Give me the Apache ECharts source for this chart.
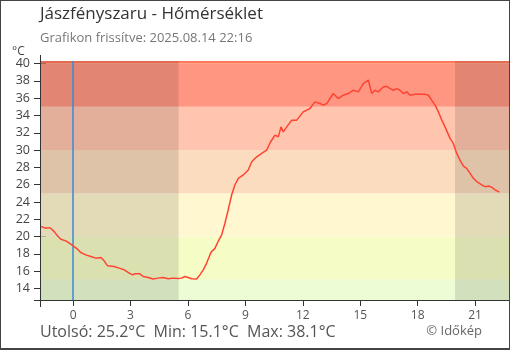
<!DOCTYPE html>
<html>
<head>
<meta charset="utf-8">
<script src="https://cdn.jsdelivr.net/npm/echarts@6/dist/echarts.min.js"></script>
<style>
  html, body { margin: 0; padding: 0; background: #fff; }
  #wrap { position: relative; width: 510px; height: 350px; }
  #chart { width: 510px; height: 350px; }
  #frame { position: absolute; left: 0; top: 0; width: 510px; height: 350px; box-sizing: border-box;
           border: 1px solid #444; border-bottom-width: 2px; pointer-events: none; }
</style>
</head>
<body>
<div id="wrap"><div id="chart"></div><div id="frame"></div></div>
<script>
// Hours relative to local midnight (negative = previous evening), temperatures in °C
const hours = [
  -1.73, -1.43, -1.31, -1.17, -0.99, -0.82, -0.64, -0.38, -0.12, 0.05,
  0.23, 0.40, 0.66, 0.93, 1.19, 1.45, 1.62, 1.80, 2.14, 2.40,
  2.67, 2.93, 3.11, 3.23, 3.49, 3.66, 3.92, 4.18, 4.44, 4.70,
  4.97, 5.23, 5.49, 5.67, 5.84, 6.01, 6.19, 6.45, 6.62, 6.80,
  6.97, 7.15, 7.23, 7.40, 7.57, 7.76, 7.93, 8.10, 8.28, 8.45,
  8.63, 8.89, 9.15, 9.33, 9.59, 9.85, 10.11, 10.32, 10.54, 10.72,
  10.86, 10.98, 11.16, 11.42, 11.68, 12.02, 12.20, 12.37, 12.63, 12.90,
  13.07, 13.25, 13.42, 13.59, 13.85, 14.11, 14.38, 14.64, 14.90, 15.16,
  15.42, 15.60, 15.77, 15.94, 16.20, 16.38, 16.56, 16.73, 16.91, 17.08,
  17.25, 17.43, 17.60, 17.86, 18.12, 18.38, 18.56, 18.73, 18.91, 19.08,
  19.26, 19.43, 19.69, 19.86, 20.04, 20.21, 20.39, 20.56, 20.74, 20.91,
  21.09, 21.35, 21.52, 21.70, 21.88, 22.05, 22.22, 22.27
];
const temps = [
  21.2, 20.96, 21.03, 20.96, 20.57, 20.1, 19.69, 19.5, 19.12, 18.84,
  18.54, 18.15, 17.88, 17.69, 17.5, 17.57, 17.19, 16.61, 16.53, 16.35,
  16.15, 15.77, 15.57, 15.69, 15.69, 15.38, 15.26, 15.08, 15.19, 15.26,
  15.11, 15.19, 15.15, 15.19, 15.38, 15.26, 15.11, 15.08, 15.57, 16.15,
  16.9, 17.9, 18.26, 18.6, 19.4, 20.19, 21.54, 23.07, 24.8, 25.96,
  26.73, 27.12, 27.69, 28.65, 29.22, 29.61, 30.0, 30.96, 31.73, 31.53,
  32.68, 32.11, 32.68, 33.46, 33.46, 34.42, 34.61, 34.81, 35.57, 35.38,
  35.19, 35.38, 35.96, 36.54, 35.96, 36.34, 36.54, 36.92, 36.73, 37.69,
  38.1, 36.54, 36.92, 36.73, 37.3, 37.38, 37.11, 36.92, 37.11, 36.92,
  36.54, 36.73, 36.34, 36.46, 36.46, 36.46, 36.34, 35.77, 35.19, 34.42,
  33.46, 32.68, 31.35, 30.77, 29.61, 28.84, 28.15, 27.88, 27.31, 26.73,
  26.34, 25.96, 25.77, 25.84, 25.69, 25.38, 25.19, 25.2
];

// Axis ranges and tick labels
const xMin = -1.73, xMax = 22.77;
const yMin = 12.66, yMax = 40.3;
const xTicks = [0, 3, 6, 9, 12, 15, 18, 21];
const yTicks = [14, 16, 18, 20, 22, 24, 26, 28, 30, 32, 34, 36, 38, 40];

// Temperature bands (lower bound, upper bound, colour)
const bandFrom   = [yMin, 15, 20, 25, 30, 35, 40];
const bandTo     = [15, 20, 25, 30, 35, 40, yMax];
const bandColors = ['#eefcd6', '#f5fcc6', '#fff7cf', '#fbdcbe', '#ffc5ae', '#ff9682', '#ff7a58'];

// Darkness: before sunrise and after sunset
const sunrise = 5.51, sunset = 19.95;
const midnight = 0;

const titleText = 'Jászfényszaru - Hőmérséklet';
const updatedText = 'Grafikon frissítve: 2025.08.14 22:16';

const FONT = '"Open Sans", "Noto Sans", sans-serif';
const last = temps[temps.length - 1];
const tMin = Math.min(...temps), tMax = Math.max(...temps);
const summary = 'Utolsó: ' + last.toFixed(1) + '°C  Min: ' + tMin.toFixed(1) + '°C  Max: ' + tMax.toFixed(1) + '°C';

const chart = echarts.init(document.getElementById('chart'), null, { renderer: 'canvas' });

function xAxisDef(inside) {
  return {
    type: 'value', min: xMin, max: xMax, position: 'bottom',
    axisLine: { show: !inside, onZero: false, lineStyle: { color: '#333', width: 1 } },
    axisTick: { show: true, inside: inside, length: 6, customValues: xTicks, lineStyle: { color: '#333' } },
    axisLabel: { show: !inside, customValues: xTicks, color: '#555', fontSize: 12, fontFamily: FONT, margin: 10 },
    splitLine: { show: false }
  };
}
function yAxisDef(inside) {
  return {
    type: 'value', min: yMin, max: yMax, position: 'left',
    axisLine: { show: !inside, onZero: false, lineStyle: { color: '#333', width: 1 } },
    axisTick: { show: true, inside: inside, length: 6, customValues: yTicks, lineStyle: { color: '#333' } },
    axisLabel: { show: !inside, customValues: yTicks, color: '#444', fontSize: 12.5, fontFamily: FONT, margin: 10 },
    splitLine: { show: false }
  };
}

// Colour bands first, then the night shading drawn over them
const areas = bandFrom.map((f, i) => [
  { yAxis: f, itemStyle: { color: bandColors[i] } },
  { yAxis: bandTo[i] }
]).concat([
  [{ xAxis: xMin, itemStyle: { color: 'rgba(0,0,0,0.11)' } }, { xAxis: sunrise }],
  [{ xAxis: sunset, itemStyle: { color: 'rgba(0,0,0,0.11)' } }, { xAxis: xMax }]
]);

chart.setOption({
  animation: false,
  textStyle: { fontFamily: FONT },
  grid: { left: 40, right: 1, top: 61, bottom: 50, containLabel: false },
  xAxis: [xAxisDef(false), xAxisDef(true)],
  yAxis: [yAxisDef(false), yAxisDef(true)],
  graphic: [
    { type: 'text', left: 40, top: 6, z: 10, style: { text: titleText, font: '17px ' + FONT, fill: '#333' } },
    { type: 'text', left: 40, top: 32, z: 10, style: { text: updatedText, font: '13px ' + FONT, fill: '#777' } },
    { type: 'text', left: 12, top: 46, z: 10, style: { text: '°C', font: '12px ' + FONT, fill: '#444' } },
    { type: 'text', left: 40, top: 324, z: 10, style: { text: summary, font: '16px ' + FONT, fill: '#555' } },
    { type: 'text', right: 28, top: 325, z: 10, style: { text: '© Időkép', font: '13px ' + FONT, fill: '#666' } },
    // axis lines run a little past the plot corner
    { type: 'line', z: 10, shape: { x1: 40.5, y1: 55, x2: 40.5, y2: 307 }, style: { stroke: '#333', lineWidth: 1 } },
    { type: 'line', z: 10, shape: { x1: 34, y1: 300.5, x2: 510, y2: 300.5 }, style: { stroke: '#333', lineWidth: 1 } }
  ],
  series: [
    {
      name: 'háttér', type: 'line', z: 1, silent: true,
      data: [[xMin, yMin]], showSymbol: false, symbol: 'none', lineStyle: { opacity: 0 },
      markArea: { silent: true, data: areas }
    },
    {
      name: 'éjfél', type: 'line', z: 4, silent: true,
      data: [[midnight, yMin]], showSymbol: false, symbol: 'none', lineStyle: { opacity: 0 },
      markLine: { silent: true, symbol: ['none', 'none'], label: { show: false },
        emphasis: { disabled: true },
        lineStyle: { color: '#3a8ad6', width: 1.5, type: 'solid', opacity: 1 }, data: [{ xAxis: midnight }] }
    },
    {
      name: 'Hőmérséklet', type: 'line', z: 5,
      data: hours.map((h, i) => [h, temps[i]]),
      showSymbol: false, symbol: 'none',
      lineStyle: { color: '#ff4433', width: 1.5 }
    }
  ]
});
</script>
</body>
</html>
